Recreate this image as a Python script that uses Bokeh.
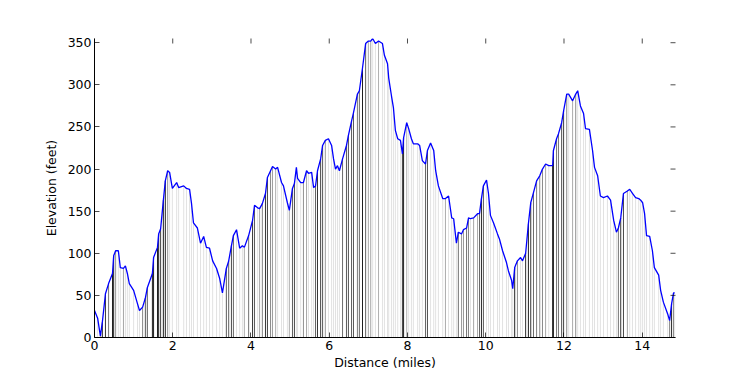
import numpy as np
from bokeh.plotting import figure
from bokeh.models import Range1d, FixedTicker
from bokeh.embed import file_html
from bokeh.resources import INLINE

# Track samples: distance (miles) and elevation (feet)
dist = [0.00, 0.08, 0.15, 0.20, 0.28, 0.36, 0.46, 0.49, 0.54, 0.61, 0.66, 0.74, 0.79, 0.84, 0.89,
        1.00, 1.10, 1.15, 1.23, 1.30, 1.35, 1.48, 1.51, 1.61, 1.64, 1.69, 1.76, 1.81, 1.87, 1.92,
        1.99, 2.10, 2.15, 2.28, 2.35, 2.43, 2.48, 2.53, 2.63, 2.71, 2.79, 2.86, 2.94, 3.02, 3.12,
        3.20, 3.27, 3.37, 3.43, 3.50, 3.55, 3.63, 3.71, 3.78, 3.83,
        3.94, 4.04, 4.09, 4.17, 4.22, 4.29, 4.37, 4.42, 4.50, 4.55, 4.63, 4.68, 4.78, 4.83, 4.93,
        4.98, 5.06, 5.11, 5.16, 5.19, 5.27, 5.34, 5.42, 5.47, 5.55, 5.60, 5.65, 5.70, 5.78,
        5.83, 5.90, 5.98, 6.06, 6.11, 6.16, 6.21, 6.26, 6.34, 6.44, 6.49, 6.57, 6.62, 6.72, 6.77,
        6.85, 6.93, 7.00, 7.06, 7.11, 7.18, 7.26, 7.36, 7.41, 7.49, 7.52, 7.59, 7.64, 7.69,
        7.75, 7.82, 7.87, 7.90, 7.98, 8.03, 8.10, 8.15, 8.26, 8.31, 8.38, 8.46, 8.51, 8.59, 8.67,
        8.72, 8.79, 8.90, 8.97, 9.05, 9.13, 9.18, 9.25, 9.30, 9.38, 9.43, 9.51, 9.56, 9.61,
        9.69, 9.79, 9.84, 9.89, 9.94, 10.02, 10.07, 10.12, 10.20, 10.30, 10.35, 10.43, 10.53, 10.58,
        10.66, 10.69, 10.74, 10.81, 10.89, 10.94, 11.02, 11.09, 11.15, 11.22, 11.30, 11.38, 11.45, 11.53,
        11.61, 11.71, 11.73, 11.81, 11.86, 11.94, 11.99, 12.07, 12.12, 12.22, 12.30, 12.35, 12.42, 12.50,
        12.55, 12.65, 12.73, 12.78, 12.86, 12.93, 13.01, 13.11, 13.19, 13.27, 13.34, 13.39, 13.45,
        13.52, 13.62, 13.68, 13.75, 13.83, 13.91, 13.96, 14.01, 14.06, 14.11, 14.19, 14.26, 14.31,
        14.42, 14.47, 14.54, 14.65, 14.70, 14.75, 14.80, 14.83]

elev = [32, 23, 2, 18, 52, 64, 76, 97, 103, 103, 83, 82, 85, 76, 64,
        56, 40, 32, 36, 47, 59, 76, 95, 107, 123, 129, 163, 186, 198, 196,
        177, 184, 178, 180, 177, 176, 159, 136, 130, 112, 120, 107, 106, 91, 82,
        70, 53, 82, 91, 109, 121, 128, 106, 109, 107,
        121, 139, 157, 154, 153, 159, 171, 190, 198, 203, 200, 202, 184, 180, 160,
        151, 177, 183, 202, 189, 184, 184, 198, 195, 196, 178, 180, 198, 212,
        228, 234, 236, 228, 212, 200, 204, 198, 212, 228, 240, 257, 267, 289, 293,
        320, 349, 352, 352, 355, 349, 352, 349, 335, 325, 308, 287, 273, 246,
        236, 234, 218, 237, 255, 248, 236, 230, 230, 228, 210, 206, 222, 231, 222,
        198, 180, 165, 165, 168, 142, 141, 112, 125, 123, 128, 130, 142, 141,
        142, 147, 147, 165, 180, 187, 171, 145, 136, 123, 117, 103, 89, 79,
        68, 58, 83, 91, 95, 91, 100, 135, 160, 172, 186, 192, 200, 206,
        204, 204, 222, 236, 242, 255, 269, 289, 289, 281, 289, 293, 275, 266,
        248, 247, 222, 202, 192, 168, 166, 168, 163, 139, 125, 130, 142,
        171, 174, 176, 171, 166, 165, 163, 160, 147, 121, 120, 103, 83,
        74, 56, 42, 28, 20, 40, 53, 53]

x_ticks = [0, 2, 4, 6, 8, 10, 12, 14]
y_ticks = [0, 50, 100, 150, 200, 250, 300, 350]

d = np.array(dist, dtype=float)
e = np.array(elev, dtype=float)

# shade of each vertical line from the local climb rate (darker when climbing)
slope = np.gradient(e, d)
climb = np.clip(slope / 350.0, 0, 1)
grey = np.where(slope > 0, 0.70 - 0.58 * climb, 0.89)
colors = ["#%02x%02x%02x" % ((int(g * 255),) * 3) for g in grey]

FONT = "DejaVu Sans"
x_rng = Range1d(0, 14.85)
y_rng = Range1d(0, 355)

p = figure(width=750, height=375, output_backend="svg", toolbar_location=None,
           x_range=x_rng, y_range=y_rng,
           min_border_left=94, min_border_right=75, min_border_top=38, min_border_bottom=38)
p.frame_width = 581
p.frame_height = 299
p.outline_line_color = None
p.xgrid.visible = False
p.ygrid.visible = False
p.background_fill_color = "white"

p.segment(x0=d, y0=np.zeros_like(d), x1=d, y1=e, line_color=colors, line_width=1.0)
p.line(d, e, line_color="#0000ff", line_width=1.3)

# inward tick marks on the top and right edges (no spine there), clipped to the frame
p.scatter(x=x_ticks, y=[y_rng.end] * len(x_ticks), marker="dash", angle=np.pi / 2,
          size=10, line_color="black", line_alpha=0.7, line_width=1)
p.scatter(x=[x_rng.end] * len(y_ticks), y=y_ticks, marker="dash",
          size=10, line_color="black", line_alpha=0.7, line_width=1)

for ax, ticks in ((p.xaxis[0], x_ticks), (p.yaxis[0], y_ticks)):
    ax.ticker = FixedTicker(ticks=ticks)
    ax.minor_tick_line_color = None
    ax.major_tick_in = 5
    ax.major_tick_out = 0
    ax.major_tick_line_color = "black"
    ax.major_tick_line_alpha = 0.7
    ax.axis_line_color = "black"
    ax.axis_line_width = 1
    ax.major_label_text_font = FONT
    ax.major_label_text_font_size = "12.5px"
    ax.major_label_text_color = "black"
    ax.axis_label_text_font = FONT
    ax.axis_label_text_font_size = "12.5px"
    ax.axis_label_text_font_style = "normal"
    ax.axis_label_text_color = "black"
    ax.major_label_standoff = 3

p.xaxis[0].axis_label = "Distance (miles)"
p.yaxis[0].axis_label = "Elevation (feet)"
p.xaxis[0].axis_label_standoff = 2
p.yaxis[0].axis_label_standoff = 6

open("out.html", "w").write(file_html(p, INLINE))
